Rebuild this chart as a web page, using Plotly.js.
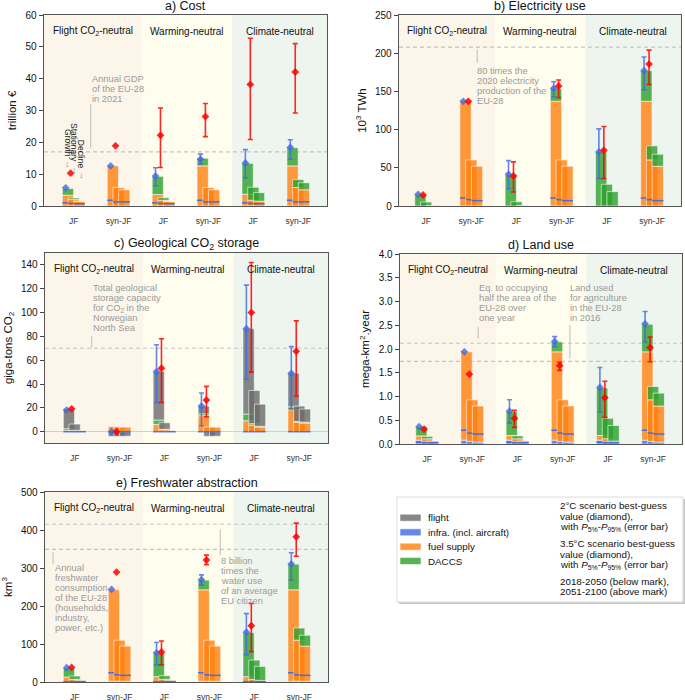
<!DOCTYPE html>
<html><head><meta charset="utf-8">
<script src="https://cdn.plot.ly/plotly-3.0.1.min.js"></script>
<style>body{margin:0;background:#fff}#chart{width:685px;height:700px}</style>
</head><body><div id="chart"></div>
<script>
// ---------------- categories ----------------
const groupLabels = ['JF','syn-JF','JF','syn-JF','JF','syn-JF'];
const groupPos = [0,1,2,3,4,5];
const scenarioNames = ['Flight CO<sub>2</sub>-neutral','Warming-neutral','Climate-neutral'];
const scenarioEdges = [1.53, 3.53];
const barCases = ['Growth','Stationary','Decline'];
const componentNames = ['flight','infra. (incl. aircraft)','fuel supply','DACCS'];

// Each component array: rows = Growth, Stationary, Decline ; columns = the 6 groups
// ---------------- a) Cost (trillion €) ----------------
const costInfra  = [[0,0,0,0,0,0],[0,0,0,0,0,0],[0,0,0,0,0,0]];
const costFuel   = [[3.4,12.6,3.6,12.6,3.7,12.6],[2.0,5.8,1.8,5.8,1.8,5.8],[1.4,5.1,1.4,5.1,1.5,5.1]];
const costDaccs  = [[2.1,0,5.7,2.4,9.7,5.7],[0.5,0,0.8,0,4.1,2.5],[0.1,0,0.1,0,2.7,2.2]];
const costFlight = [[0,0,0,0,0,0],[0,0,0,0,0,0],[0,0,0,0,0,0]];
const costSplit  = [[1.0,1.8,1.0,1.8,1.0,1.8],[0.8,1.3,0.8,1.3,0.8,1.3],[0.7,1.3,0.7,1.3,0.7,1.3]];
const cost2C     = [5.7,12.6,9.4,14.7,13.5,18.4];
const cost2CP5   = [null,null,6.3,13.2,8.8,14.7];
const cost2CP95  = [null,null,12.0,16.3,17.7,20.8];
const cost35C    = [10.3,18.9,22.2,28.1,38.2,42.1];
const cost35CP5  = [null,null,12.1,21.8,20.9,29.2];
const cost35CP95 = [null,null,30.8,32.2,52.7,51.0];
const costRefs   = [17];

// ---------------- b) Electricity use (10^3 TWh) ----------------
const elecInfra  = [[0,0,0,0,0,0],[0,0,0,0,0,0],[0,0,0,0,0,0]];
const elecFuel   = [[0,137,0,137,0,137],[0,60.3,0,60.3,0,60.3],[0,52,0,52,0,52]];
const elecDaccs  = [[15.3,0,40.6,16.8,70.8,40],[5.2,0,5.7,0,28.4,18.4],[0.5,0,0.5,0,18.8,15.7]];
const elecFlight = [[0,0,0,0,0,0],[0,0,0,0,0,0],[0,0,0,0,0,0]];
const elecSplit  = [[null,10.5,null,10.5,null,10.5],[null,8.3,null,8.3,null,8.3],[null,7,null,7,null,7]];
const elec2C     = [15.3,137,41.5,154,70.8,177];
const elec2CP5   = [null,null,22.7,143,36,152];
const elec2CP95  = [null,null,59.4,162.6,101,195];
const elec35C    = [14.4,137,39.3,157,73,185.8];
const elec35CP5  = [null,null,18.4,142,36,159];
const elec35CP95 = [null,null,57.7,165,104,204];
const elecRefs   = [208];

// ---------------- c) Geological CO2 storage (Gt CO2) ----------------
const co2Infra  = [[0,0,0,0,0,0],[0,0,0,0,0,0],[0,0,0,0,0,0]];
const co2Fuel   = [[1.0,4.3,6.1,13.4,9.2,18.4],[0.8,4.0,1.5,4.0,5.5,7.8],[0.3,3.8,0.3,3.8,3.9,7.2]];
const co2Daccs  = [[1.5,0,3.7,1.6,5.6,2.5],[0.3,0,0.5,0,1.2,0.8],[0,0,0,0,0.6,0.8]];
const co2Flight = [[16.7,-4.0,40.7,6.5,71.6,28.1],[5.3,-3.9,5.5,-3.9,27.9,12.9],[0,-3.8,0,-3.8,18.6,11]];
const co2Split  = [[0,0,0,0,0,0],[0,0,0,0,0,0],[0,0,0,0,0,0]];
const co22C     = [18.1,0,50.5,21.5,86.4,49];
const co22CP5   = [null,null,24.5,5,44,19];
const co22CP95  = [null,null,73,32.5,123,71.4];
const co235C    = [19.2,0,53.3,26.5,100,67.5];
const co235CP5  = [null,null,24.5,12.5,50,30];
const co235CP95 = [null,null,78,38,142,93];
const co2Refs   = [70];

// ---------------- d) Land use (mega-km2.year) ----------------
const landInfra  = [[0.08,0.08,0.08,0.08,0.08,0.08],[0.05,0.05,0.05,0.05,0.05,0.05],[0.04,0.04,0.04,0.04,0.04,0.04]];
const landFuel   = [[0.09,1.86,0.10,1.86,0.10,1.86],[0.06,0.88,0.06,0.88,0.06,0.88],[0.02,0.76,0.02,0.76,0.02,0.76]];
const landDaccs  = [[0.195,0,0.50,0.21,1.0,0.58],[0.05,0,0.06,0,0.43,0.28],[0,0,0,0,0.33,0.27]];
const landFlight = [[0,0,0,0,0,0],[0,0,0,0,0,0],[0,0,0,0,0,0]];
const landSplit  = [[0.04,0.29,0.04,0.29,0.04,0.29],[0.03,0.23,0.03,0.23,0.03,0.23],[0.03,0.21,0.03,0.21,0.03,0.21]];
const land2C     = [0.365,1.94,0.69,2.16,1.19,2.53];
const land2CP5   = [null,null,0.44,2.05,0.68,2.15];
const land2CP95  = [null,null,0.93,2.26,1.61,2.79];
const land35C    = [0.31,1.47,0.54,1.65,0.975,2.03];
const land35CP5  = [null,null,0.35,1.55,0.56,1.73];
const land35CP95 = [null,null,0.71,1.72,1.32,2.25];
const landRefs   = [2.12,1.74];

// ---------------- e) Freshwater abstraction (km3) ----------------
const waterInfra  = [[2,2,2,2,2,2],[2,2,2,2,2,2],[2,2,2,2,2,2]];
const waterFuel   = [[11,240.6,12,240.6,12,240.6],[5,108,5,108,5,108],[2,92.5,2,92.5,2,92.5]];
const waterDaccs  = [[23.6,0,62,25.4,116,67.4],[8.7,0,9.6,0,50.6,32],[0,0,0,0,37,28.5]];
const waterFlight = [[0,0,0,0,0,0],[0,0,0,0,0,0],[0,0,0,0,0,0]];
const waterSplit  = [[1,24.4,1,24.4,1,24.4],[1,19,1,19,1,19],[1,17.5,1,17.5,1,17.5]];
const water2C     = [37.5,243.5,76.8,268.8,131,310.6];
const water2CP5   = [null,null,45,255,72,268];
const water2CP95  = [null,null,104,282,180,340];
const water35C    = [38.4,289,79,321,148,382];
const water35CP5  = [null,null,45,309,80,331];
const water35CP95 = [null,null,108,334,207,418];
const waterRefs   = [415,349];

// ---------------- layout helpers ----------------
const W = 685, H = 700;
const px = x => x / W, py = y => 1 - y / H;
const FONT = 'Liberation Sans, Arial, Helvetica, sans-serif';
const colors = {flight:'rgba(105,105,105,0.8)', infra:'rgba(65,105,225,0.8)', fuel:'rgba(255,127,14,0.8)', daccs:'rgba(44,160,44,0.8)'};
const blueC = 'rgba(65,105,225,0.8)', redC = 'rgba(255,0,0,0.85)';
const barW = 0.25, step = 0.127;

const panels = [
 {title:'a) Cost', ytitle:'trillion €', box:[44,327,15,206], xr:[-0.66,5.64], yr:[0,60], dtick:10, fmt:'',
  infra:costInfra, fuel:costFuel, daccs:costDaccs, flight:costFlight, split:costSplit,
  b2:cost2C, b2lo:cost2CP5, b2hi:cost2CP95, b35:cost35C, b35lo:cost35CP5, b35hi:cost35CP95, refs:costRefs},
 {title:'b) Electricity use', ytitle:'10<sup>3</sup> TWh', box:[399,681,15,206], xr:[-0.6,5.64], yr:[0,250], dtick:50, fmt:'',
  infra:elecInfra, fuel:elecFuel, daccs:elecDaccs, flight:elecFlight, split:elecSplit,
  b2:elec2C, b2lo:elec2CP5, b2hi:elec2CP95, b35:elec35C, b35lo:elec35CP5, b35hi:elec35CP95, refs:elecRefs},
 {title:'c) Geological CO<sub>2</sub> storage', ytitle:'giga-tons CO<sub>2</sub>', box:[45,328,253,443], xr:[-0.66,5.64], yr:[-9.5,150], dtick:20, fmt:'',
  infra:co2Infra, fuel:co2Fuel, daccs:co2Daccs, flight:co2Flight, split:co2Split,
  b2:co22C, b2lo:co22CP5, b2hi:co22CP95, b35:co235C, b35lo:co235CP5, b35hi:co235CP95, refs:co2Refs},
 {title:'d) Land use', ytitle:'mega-km<sup>2</sup>.year', box:[400,682,254,444], xr:[-0.6,5.64], yr:[0,4], dtick:0.5, fmt:'.1f',
  infra:landInfra, fuel:landFuel, daccs:landDaccs, flight:landFlight, split:landSplit,
  b2:land2C, b2lo:land2CP5, b2hi:land2CP95, b35:land35C, b35lo:land35CP5, b35hi:land35CP95, refs:landRefs},
 {title:'e) Freshwater abstraction', ytitle:'km<sup>3</sup>', box:[45,328,492,682], xr:[-0.66,5.64], yr:[0,500], dtick:100, fmt:'',
  infra:waterInfra, fuel:waterFuel, daccs:waterDaccs, flight:waterFlight, split:waterSplit,
  b2:water2C, b2lo:water2CP5, b2hi:water2CP95, b35:water35C, b35lo:water35CP5, b35hi:water35CP95, refs:waterRefs}
];

// annotation texts (gray notes) : [panel, x, y of first line, lines], connector lines [panel, x, y0, y1]
const notes = [
 [0, 0.385, 39.9, ['Annual GDP','of the EU-28','in 2021']],
 [1, 1.11, 177, ['80 times the','2020 electricity','production of the','EU-28']],
 [2, 0.385, 120.5, ['Total geological','storage capacity','for CO<sub>2</sub> in the','Norwegian','North Sea']],
 [3, 1.13, 3.28, ['Eq. to occupying','half the area of the','EU-28 over','one year']],
 [3, 3.13, 3.28, ['Land used','for agriculture','in the EU-28','in 2016']],
 [4, -0.47, 299, ['Annual','freshwater','consumption','of the EU-28','(households,','industry,','power, etc.)']],
 [4, 3.24, 318, ['8 billion','times the','water use','of an average','EU citizen']]
];
const connectors = [
 [0, 0.38, 32, 18.2], [1, 1.13, 205, 187], [2, 0.38, 80, 70.5],
 [3, 1.13, 2.47, 2.22], [3, 3.16, 2.5, 1.8], [4, -0.48, 341, 310], [4, 3.24, 400, 334]
];

const traces = [], shapes = [], annotations = [];
const layout = {width:W, height:H, margin:{l:0,r:0,t:0,b:0}, barmode:'overlay', showlegend:false,
  paper_bgcolor:'#fff', plot_bgcolor:'#fff', font:{family:FONT, color:'#111'}};

const bgColors = ['#fcf6ea','#fffdee','#eef5ee'];

panels.forEach((p, i) => {
  const n = i ? String(i+1) : '';
  const xa = 'x' + n, ya = 'y' + n;
  layout['xaxis' + n] = {domain:[px(p.box[0]), px(p.box[1])], range:p.xr, anchor:ya,
    tickvals:groupPos, ticktext:groupLabels, ticks:'outside', ticklen:6, tickcolor:'rgba(0,0,0,0)',
    tickfont:{size:8.5, color:'#333'}, showline:true, mirror:true, linecolor:'#555', linewidth:1.3,
    showgrid:false, zeroline:false, fixedrange:true};
  layout['yaxis' + n] = {domain:[py(p.box[3]), py(p.box[2])], range:p.yr, anchor:xa,
    tick0:0, dtick:p.dtick, tickformat:p.fmt, ticks:'outside', ticklen:4, tickcolor:'#444',
    tickfont:{size:10, color:'#111'}, showline:true, mirror:true, linecolor:'#555', linewidth:1.3,
    showgrid:false, zeroline: i === 2, zerolinecolor:'#d0d0d0', zerolinewidth:1, fixedrange:true,
    title:{text:p.ytitle, font:{size:11.5, color:'#111'}, standoff:6}};

  // scenario backgrounds
  const edges = [p.xr[0], scenarioEdges[0], scenarioEdges[1], p.xr[1]];
  for (let k = 0; k < 3; k++) {
    shapes.push({type:'rect', layer:'below', xref:xa, yref:ya + ' domain', x0:edges[k], x1:edges[k+1], y0:0, y1:1,
      fillcolor:bgColors[k], line:{width:0}});
    annotations.push({xref:xa, yref:ya + ' domain', x:(edges[k] + edges[k+1]) / 2, y:0.915, text:scenarioNames[k],
      showarrow:false, font:{size:10, color:'#111'}, xanchor:'center', yanchor:'middle'});
  }
  // reference lines
  p.refs.forEach(v => shapes.push({type:'line', layer:'below', xref:xa + ' domain', x0:0, x1:1, yref:ya, y0:v, y1:v,
    line:{color:'#c4c4c4', width:1.1, dash:'4px,3px'}}));

  // stacked bars: Growth, Stationary, Decline
  for (let b = 0; b < 3; b++) {
    const pos = groupPos.map(() => 0), neg = groupPos.map(() => 0);
    const xs = groupPos.map(g => g + (b - 1) * step);
    [['infra', p.infra], ['fuel', p.fuel], ['daccs', p.daccs], ['flight', p.flight]].forEach(([k, arr]) => {
      const vals = arr[b];
      const base = vals.map((v, j) => v >= 0 ? pos[j] : neg[j]);
      vals.forEach((v, j) => { if (v >= 0) pos[j] += v; else neg[j] += v; });
      traces.push({type:'bar', x:xs, y:vals.map(v => v === 0 ? null : v), base:base, width:barW,
        xaxis:xa, yaxis:ya, marker:{color:colors[k], line:{color:'rgba(255,255,255,0.7)', width:0.8}},
        hoverinfo:'skip', showlegend:false});
    });
  }
  // 2018-2050 / 2051-2100 split marks
  const dashDx = [-0.19, -0.06, 0.127], dashLen = [4, 4, 8];
  for (let b = 0; b < 3; b++) {
    traces.push({type:'scatter', mode:'markers', xaxis:xa, yaxis:ya,
      x:groupPos.map(g => g + dashDx[b]), y:p.split[b],
      marker:{symbol:'line-ew', size:dashLen[b], color:'royalblue', line:{color:'rgba(65,105,225,0.95)', width:1.5}},
      hoverinfo:'skip', showlegend:false, cliponaxis:false});
  }
  // best guess diamonds with P5-P95 error bars
  const err = (v, lo, hi, c) => ({type:'data', symmetric:false,
    array:v.map((y, j) => hi[j] == null ? NaN : hi[j] - y),
    arrayminus:v.map((y, j) => lo[j] == null ? NaN : y - lo[j]),
    color:c, thickness:1.6, width:2.5});
  traces.push({type:'scatter', mode:'markers', xaxis:xa, yaxis:ya, x:groupPos.map(g => g - step - 0.05), y:p.b2,
    marker:{symbol:'diamond', size:6, color:blueC}, error_y:err(p.b2, p.b2lo, p.b2hi, blueC), hoverinfo:'skip', showlegend:false});
  traces.push({type:'scatter', mode:'markers', xaxis:xa, yaxis:ya, x:groupPos.map(g => g - step + 0.06), y:p.b35,
    marker:{symbol:'diamond', size:6, color:redC}, error_y:err(p.b35, p.b35lo, p.b35hi, redC), hoverinfo:'skip', showlegend:false});

  // panel title
  annotations.push({xref:'paper', yref:'paper', x:(px(p.box[0]) + px(p.box[1])) / 2, y:py(p.box[2] - 9), text:p.title,
    showarrow:false, font:{size:12.5, color:'#111'}, xanchor:'center', yanchor:'middle'});
});

// gray notes
notes.forEach(([pi, x, y, lines]) => {
  const n = pi ? String(pi+1) : '';
  lines.forEach((t, k) => annotations.push({xref:'x' + n, yref:'y' + n, x:x, y:y, yshift:-k * 10, text:t,
    showarrow:false, font:{size:9.3, color:'#9a9a9a'}, xanchor:'left', yanchor:'middle', borderpad:0}));
});
connectors.forEach(([pi, x, y0, y1]) => {
  const n = pi ? String(pi+1) : '';
  shapes.push({type:'line', xref:'x' + n, yref:'y' + n, x0:x, x1:x, y0:y0, y1:y1, line:{color:'#bdbdbd', width:1}});
});

// Growth / Stationary / Decline labels in panel a
const caseDx = [-0.13, 0.02, 0.18], caseEnd = [15.1, 13.5, 11.3], caseArrow = [13.3, 11.3, 9.6];
barCases.forEach((t, k) => {
  annotations.push({xref:'x', yref:'y', x:groupPos[0] + caseDx[k], y:caseEnd[k], text:t, textangle:90,
    showarrow:false, font:{size:8.5, color:'#222'}, xanchor:'center', yanchor:'bottom', borderpad:0});
  annotations.push({xref:'x', yref:'y', x:groupPos[0] + caseDx[k], y:caseArrow[k], text:'↓',
    showarrow:false, font:{size:9, color:'#888'}, xanchor:'center', yanchor:'middle', borderpad:0});
});

// ---------------- legend box ----------------
const LX = 397, LY = 497, LW = 286, LH = 105;
const lx = x => px(LX + x), ly = y => py(LY + y);
shapes.push({type:'rect', xref:'paper', yref:'paper', x0:lx(2), x1:lx(LW + 2), y0:ly(2), y1:ly(LH + 2),
  fillcolor:'#c8c8c8', line:{width:0}});
shapes.push({type:'rect', xref:'paper', yref:'paper', x0:lx(0), x1:lx(LW), y0:ly(0), y1:ly(LH),
  fillcolor:'#ffffff', line:{color:'#dddddd', width:1}});
const swatchY = [20.7, 35.3, 49.7, 64];
const swatchC = [colors.flight, colors.infra, colors.fuel, colors.daccs];
componentNames.forEach((t, k) => {
  shapes.push({type:'rect', xref:'paper', yref:'paper', x0:lx(3), x1:lx(24), y0:ly(swatchY[k] - 3.5), y1:ly(swatchY[k] + 3.5),
    fillcolor:swatchC[k], line:{color:'rgba(255,255,255,0.7)', width:0.8}});
  annotations.push({xref:'paper', yref:'paper', x:lx(30), y:ly(swatchY[k]), text:t, showarrow:false,
    font:{size:9.8, color:'#111'}, xanchor:'left', yanchor:'middle', borderpad:0});
});
const legRight = [
  [8, '2°C scenario best-guess'], [19, 'value (diamond),'], [29.7, 'with <i>P</i><sub>5%</sub>-<i>P</i><sub>95%</sub> (error bar)'],
  [46.3, '3.5°C scenario best-guess'], [57, 'value (diamond),'], [68, 'with <i>P</i><sub>5%</sub>-<i>P</i><sub>95%</sub> (error bar)'],
  [84.7, '2018-2050 (below mark),'], [94.7, '2051-2100 (above mark)']
];
legRight.forEach(([y, t]) => annotations.push({xref:'paper', yref:'paper', x:lx(162), y:ly(y), text:t, showarrow:false,
  font:{size:9.8, color:'#111'}, xanchor:'left', yanchor:'middle', borderpad:0}));

layout.xaxis6 = {domain:[lx(0), lx(LW)], range:[0, LW], visible:false, fixedrange:true, anchor:'y6'};
layout.yaxis6 = {domain:[ly(LH), ly(0)], range:[LH, 0], visible:false, fixedrange:true, anchor:'x6'};
traces.push({type:'scatter', mode:'markers', xaxis:'x6', yaxis:'y6', x:[145], y:[20.3],
  marker:{symbol:'diamond', size:4, color:blueC},
  error_y:{type:'data', array:[4.7], color:blueC, thickness:1.5, width:2.5}, hoverinfo:'skip', showlegend:false});
traces.push({type:'scatter', mode:'markers', xaxis:'x6', yaxis:'y6', x:[145], y:[58],
  marker:{symbol:'diamond', size:4, color:redC},
  error_y:{type:'data', array:[5], color:redC, thickness:1.5, width:2.5}, hoverinfo:'skip', showlegend:false});
traces.push({type:'scatter', mode:'markers', xaxis:'x6', yaxis:'y6', x:[145], y:[90.3],
  marker:{symbol:'line-ew', size:6, line:{color:'rgba(65,105,225,0.95)', width:1.5}}, hoverinfo:'skip', showlegend:false});

layout.shapes = shapes;
layout.annotations = annotations;
Plotly.newPlot('chart', traces, layout, {staticPlot:true, displayModeBar:false});
</script></body></html>
